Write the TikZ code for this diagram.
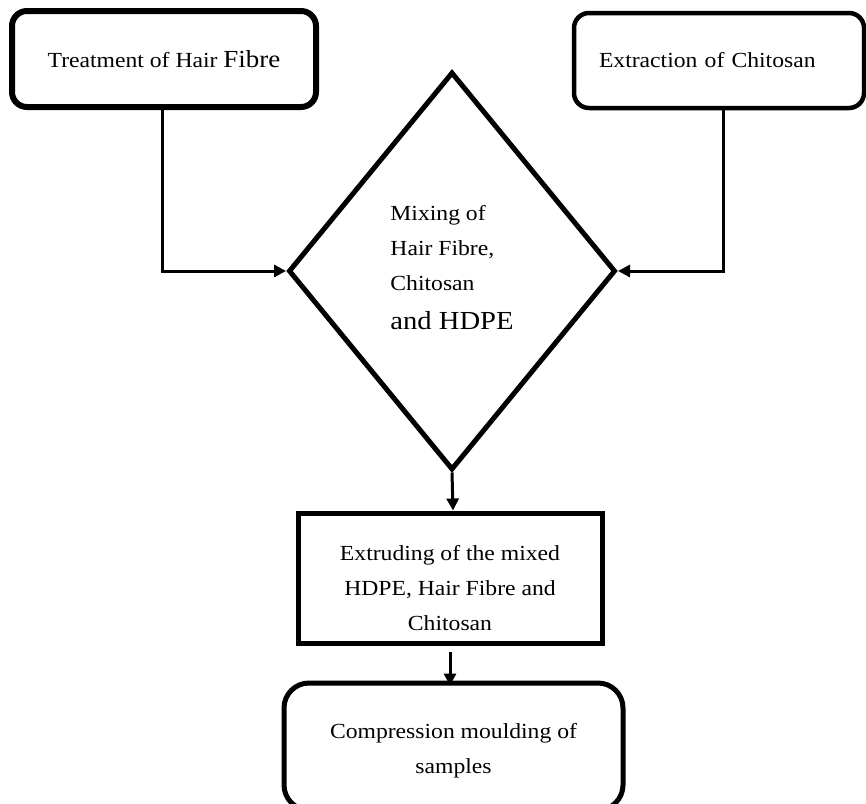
\documentclass[tikz,border=0pt]{standalone}
\usepackage{fontspec}
\setmainfont{Liberation Serif}[FakeStretch=1.1]
\usetikzlibrary{positioning, shapes.geometric, arrows.meta}

\begin{document}
\begin{tikzpicture}[x=1pt, y=-1pt,
    txt/.style={font=\fontsize{21.5}{35}\selectfont},
    roundbox/.style={draw, rounded corners=15pt, line width=5pt, inner sep=0pt, align=center, txt},
    flow/.style={line width=3pt, -{Triangle[length=12pt, width=12pt]}}]
  \clip (0,0) rectangle (866,803);
  % the two inputs
  \node[roundbox, line width=6pt, minimum width=304pt, minimum height=96pt] (treat) at (164,59)
    {Treatment of Hair {\fontsize{24.5}{30}\selectfont Fibre}};
  \node[roundbox, line width=4.5pt, minimum width=290pt, minimum height=95pt,
        text width=240pt, align=left] (extract) at (719,60.5) {Extraction of Chitosan};
  % mixing step
  \node[diamond, draw, line width=5pt, minimum width=327pt, minimum height=398pt,
        inner sep=0pt, align=left, txt] (mix) at (452,271)
    {Mixing of\\Hair Fibre,\\Chitosan\\[4pt]{\fontsize{26}{35}\selectfont and HDPE}\rule[-8pt]{0pt}{8pt}};
  % extruding and moulding
  \node[draw, line width=5pt, minimum width=304pt, minimum height=130pt,
        inner sep=0pt, align=center, txt] (extrude) at (450,578)
    {\rule{0pt}{35pt}Extruding of the mixed\\HDPE, Hair Fibre and\\Chitosan};
  \node[roundbox, rounded corners=25pt, minimum width=339pt, minimum height=127pt] (mould) at (453.5,746.5)
    {\rule{0pt}{23pt}Compression moulding of\\samples};
  % connectors
  \draw[flow] ([xshift=-2pt]treat.south) |- (mix.west);
  \draw[flow] ([xshift=4.5pt]extract.south) |- (mix.east);
  \draw[flow] (mix.south) -- ([xshift=3pt]extrude.north);
  \draw[flow, shorten <=6pt, shorten >=-5pt] (extrude.south) -- (extrude.south |- mould.north);
\end{tikzpicture}
\end{document}
